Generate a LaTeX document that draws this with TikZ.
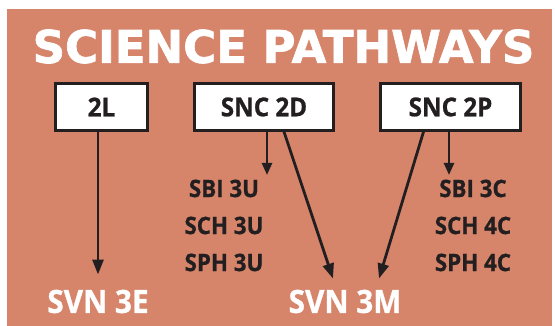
\documentclass[tikz,border=0pt]{standalone}
\usepackage{fontspec}
\usetikzlibrary{arrows.meta}
\newfontfamily\titlefont[BoldFeatures={FakeBold=1.5}]{DejaVu Sans}
\newfontfamily\labelfont[FakeStretch=0.93,BoldFeatures={FakeBold=0.8}]{Open Sans}
\definecolor{pathbg}{RGB}{214,133,107}
\definecolor{pathink}{RGB}{35,31,32}
\tikzset{
  course/.style={draw=pathink,line width=2.6pt,fill=white,minimum width=92pt,minimum height=47pt,inner sep=0pt,text=pathink,font=\labelfont\bfseries\fontsize{26}{26}\selectfont},
  option/.style={inner sep=0pt,text=pathink,font=\labelfont\bfseries\fontsize{24}{24}\selectfont},
  target/.style={inner sep=0pt,text=white,font=\labelfont\bfseries\fontsize{32}{32}\selectfont},
  path/.style={line width=2.8pt,draw=pathink,-{Triangle[length=15pt,width=11pt]}},
  subpath/.style={line width=2.4pt,draw=pathink,-{Triangle[length=12pt,width=10pt]}}
}
\begin{document}
\begin{tikzpicture}[x=1pt,y=-1pt]
 \useasboundingbox (0,0) rectangle (555,326);
 \fill[pathbg] (7,9) rectangle (552,326);
 \node[inner sep=0pt,text=white,font=\titlefont\bfseries\fontsize{45}{45}\selectfont] (title) at (283.5,46.5) {SCIENCE PATHWAYS};
 % grade 10 courses
 \node[course] (box2L) at (101.5,107) {2L};
 \node[course,minimum width=139pt] (boxD) at (264,107) {SNC 2D};
 \node[course,minimum width=140pt] (boxP) at (450.5,107) {SNC 2P};
 % grade 11 options
 \node[option] (sbiU) at (224,188.5) {SBI 3U};
 \node[option] (schU) at (224,225.5) {SCH 3U};
 \node[option] (sphU) at (224,262.5) {SPH 3U};
 \node[option] (sbiC) at (473,188.5) {SBI 3C};
 \node[option] (schC) at (473,225.5) {SCH 4C};
 \node[option] (sphC) at (473,262.5) {SPH 4C};
 \node[target] (svnE) at (98,301.5) {SVN 3E};
 \node[target] (svnM) at (345,301.5) {SVN 3M};
 \coordinate (tipD) at (267,175);
 \coordinate (tipP) at (449,175);
 % arrows
 \draw[path] (svnE |- box2L.south) -- ([yshift=15pt]svnE.north);
 \draw[path] ([xshift=20pt]boxD.south) -- ([xshift=-12pt,yshift=11pt]svnM.north);
 \draw[path] ([xshift=-27pt]boxP.south) -- ([xshift=34pt,yshift=11pt]svnM.north);
 \draw[subpath] (boxD.south -| tipD) -- (tipD);
 \draw[subpath] (boxP.south -| tipP) -- (tipP);
\end{tikzpicture}
\end{document}
